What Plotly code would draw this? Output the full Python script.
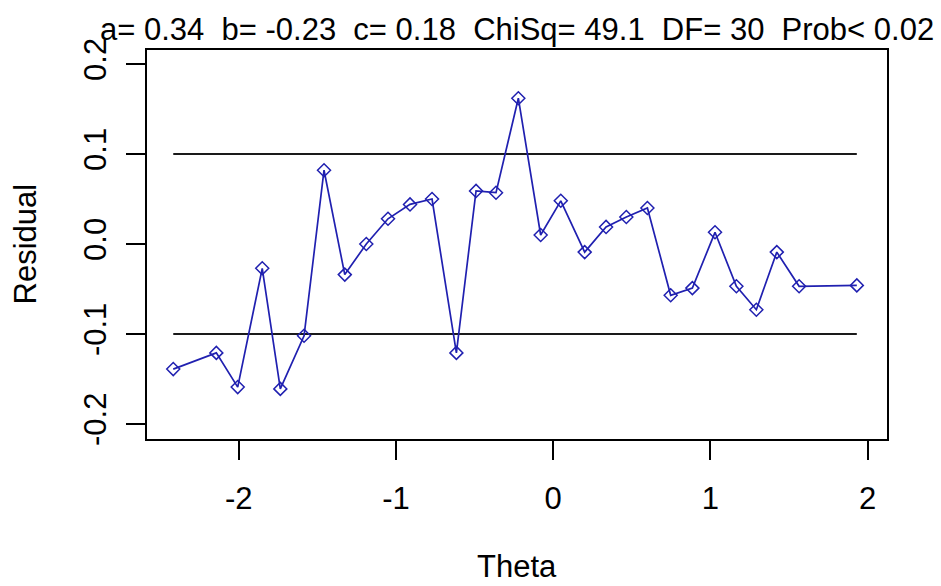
import plotly.graph_objects as go

theta = [-2.417, -2.143, -2.007, -1.851, -1.736, -1.585, -1.458, -1.326, -1.189, -1.051,
         -0.911, -0.771, -0.616, -0.491, -0.364, -0.222, -0.080, 0.048, 0.200, 0.336,
         0.465, 0.599, 0.747, 0.885, 1.029, 1.165, 1.292, 1.422, 1.564, 1.931]
residual = [-0.139, -0.121, -0.159, -0.027, -0.161, -0.102, 0.082, -0.034, 0.000, 0.028,
            0.044, 0.050, -0.121, 0.059, 0.057, 0.162, 0.010, 0.048, -0.009, 0.019,
            0.030, 0.040, -0.057, -0.049, 0.013, -0.047, -0.073, -0.009, -0.047, -0.046]
bounds = [0.1, -0.1]
x_ticks = [-2, -1, 0, 1, 2]
x_tick_labels = ["-2", "-1", "0", "1", "2"]
y_ticks = [-0.2, -0.1, 0.0, 0.1, 0.2]
y_tick_labels = ["-0.2", "-0.1", "0.0", "0.1", "0.2"]
title_text = "a= 0.34  b= -0.23  c= 0.18  ChiSq= 49.1  DF= 30  Prob< 0.02"

W, H = 941, 586
L, R, T, B = 147, 887, 50, 439   # plot box in pixels
PW, PH = R - L, B - T

FONT = "Liberation Sans, Arial, sans-serif"
FS = 31
BLUE = "#2020B0"

fig = go.Figure()
for b in bounds:
    fig.add_trace(go.Scatter(x=[min(theta), max(theta)], y=[b, b], mode="lines",
                             line=dict(color="#1a1a1a", width=2), showlegend=False,
                             hoverinfo="skip"))
fig.add_trace(go.Scatter(x=theta, y=residual, mode="lines+markers",
                         line=dict(color=BLUE, width=1.7),
                         marker=dict(symbol="diamond-open", size=10, color=BLUE,
                                     line=dict(width=1.5, color=BLUE)),
                         showlegend=False))

axis_common = dict(ticks="outside", ticklen=19, tickwidth=1.6, tickcolor="black",
                   showline=True, linecolor="black", linewidth=1.6, mirror=True,
                   showgrid=False, zeroline=False)

fig.update_layout(
    width=W, height=H,
    margin=dict(l=L, r=W - R, t=T, b=H - B),
    plot_bgcolor="white", paper_bgcolor="white",
    font=dict(family=FONT, size=FS, color="black"),
    xaxis=dict(range=[-2.584, 2.123], tickvals=x_ticks, ticktext=x_tick_labels,
               ticklabelstandoff=12, **axis_common),
    yaxis=dict(range=[-0.2167, 0.2156], tickvals=y_ticks, ticktext=y_tick_labels,
               tickangle=-90, ticklabelstandoff=8, **axis_common),
    annotations=[
        dict(text=title_text, xref="paper", yref="paper", x=0.5,
             y=(B - 29) / PH,
             xanchor="center", yanchor="middle", showarrow=False,
             font=dict(family=FONT, size=FS)),
        dict(text="Residual", xref="paper", yref="paper", x=(25 - L) / PW,
             y=0.5, xanchor="center", yanchor="middle", textangle=-90,
             showarrow=False, font=dict(family=FONT, size=FS)),
        dict(text="Theta", xref="paper", yref="paper", x=0.5,
             y=(B - 566) / PH,
             xanchor="center", yanchor="middle", showarrow=False,
             font=dict(family=FONT, size=FS)),
    ],
)
fig.write_html("out.html", config={"displayModeBar": False},
               post_script="document.body.style.margin='0px';")
